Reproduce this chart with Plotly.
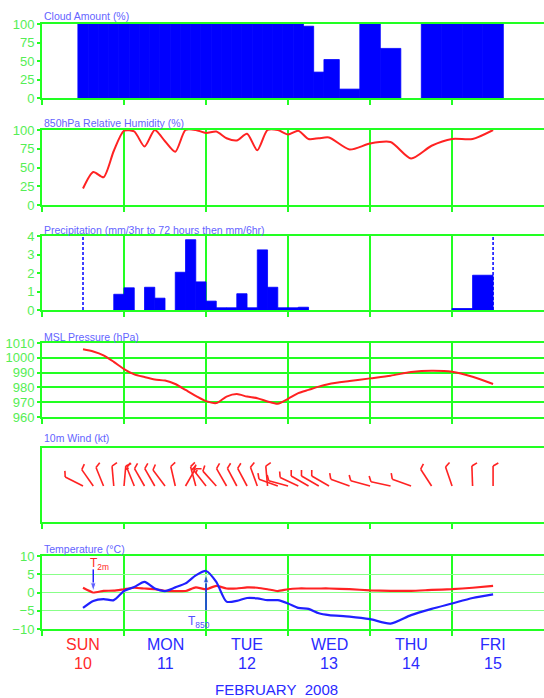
import math
import plotly.graph_objects as go

# ---------------- data ----------------
hours = [12, 15, 18, 21, 24, 27, 30, 33, 36, 39, 42, 45, 48, 51, 54, 57, 60, 63, 66, 69,
         72, 75, 78, 81, 84, 90, 96, 102, 108, 114, 120, 126, 132]

cloud = [100, 100, 100, 100, 100, 100, 100, 100, 100, 100, 100, 100, 100, 100, 100, 100,
         100, 100, 100, 100, 100, 100, 97, 35, 52, 12, 100, 67, 0, 100, 100, 100, 100]

humidity = [22, 44, 37, 72, 99, 98, 78, 100, 85, 71, 100, 100, 96, 98, 89, 86, 95, 73,
            100, 100, 94, 99, 88, 89, 90, 74, 82, 84, 62, 79, 88, 88, 100]

precip_hours = [15, 18, 21, 24, 27, 30, 33, 36, 39, 42, 45, 48, 51, 54, 57, 60, 63, 66, 69,
                72, 75, 78, 81, 84, 90, 96, 102, 108, 114, 120, 126, 132]
precip = [0, 0, 0, 0.85, 1.2, 0, 1.23, 0.64, 0, 2.04, 3.8, 1.52, 0.48, 0.12, 0.12, 0.88,
          0.12, 3.25, 1.23, 0.12, 0.12, 0.15, 0, 0, 0, 0, 0, 0, 0, 0, 0.08, 1.88]
forecast_bounds = [12, 132]

pressure = [1005.8, 1004.3, 1001.7, 997.3, 992.4, 988.8, 987.0, 985.4, 984.6, 982.3,
            978.3, 974.3, 970.7, 969.4, 973.8, 975.5, 973.8, 972.7, 970.5, 968.9,
            972.3, 976.1, 978.3, 980.5, 982.3, 984.3, 986.1, 987.9, 990.4, 991.3,
            990.6, 987.2, 982.3]

wind_dir = [297, 325, 338, 355, 5, 338, 330, 330, 323, 347, 30, 345, 322, 318, 330, 332,
            332, 340, 355, 290, 285, 295, 300, 300, 300, 290, 285, 282, 290, 327, 341,
            358, 0]
wind_speed = [10, 10, 10, 10, 15, 10, 10, 10, 10, 10, 10, 20, 15, 10, 10, 10, 10, 10, 10,
              10, 10, 10, 10, 10, 10, 10, 10, 10, 10, 10, 10, 10, 10]

t2m = [1.3, 0.0, 0.45, 0.5, 0.9, 1.3, 1.1, 0.9, 0.45, 0.4, 0.4, 1.4, 0.9, 1.8, 1.1, 1.1,
       1.4, 1.3, 0.9, 0.4, 0.9, 1.1, 1.1, 1.1, 1.1, 0.9, 0.6, 0.45, 0.45, 0.7, 0.9, 1.3,
       1.8]
t850 = [-4.2, -2.3, -1.8, -2.1, 0.4, 1.5, 2.9, 1.1, 0.4, 1.4, 2.5, 4.7, 5.9, 2.9, -2.5,
        -2.3, -1.5, -1.6, -2.1, -2.1, -3.0, -4.2, -4.5, -5.7, -6.2, -6.6, -7.3, -8.5,
        -6.2, -4.5, -3.0, -1.5, -0.5]

# labelled points on the temperature curves (time, value)
t2m_mark = (15, 0.3)
t850_mark = (48, 5.0)

day_names = ["SUN", "MON", "TUE", "WED", "THU", "FRI"]
day_nums = ["10", "11", "12", "13", "14", "15"]
day_centres = [12, 36, 60, 84, 108, 132]
day_ticks = [0, 24, 48, 72, 96, 120]
month_label = "FEBRUARY\u00a0\u00a02008"

panel_titles = ["Cloud Amount (%)", "850hPa Relative Humidity (%)",
                "Precipitation (mm/3hr to 72 hours then mm/6hr)", "MSL Pressure (hPa)",
                "10m Wind (kt)", "Temperature (\u00b0C)"]

# ---------------- style ----------------
W, H = 544, 698
LEFT = 42
XMAX = 146.9
PXH = (W - LEFT) / XMAX
GREEN = "#22ff22"
TICKGREEN = "#55ee55"
TITLEBLUE = "#6464ff"
BLUE = "#0000ff"
RED = "#ff2222"
ARROWBLUE = "#2020ff"
FONT = "Liberation Sans, Arial, sans-serif"
panels_px = [(24, 98), (130, 205), (236, 310), (343, 417), (448, 522), (556, 629)]
title_y = [16, 123, 230, 337, 438, 549]

fig = go.Figure()

# cloud bars (centred, width to midpoints)
c_off, c_wid = [], []
for i, t in enumerate(hours):
    left = t - (t - hours[i - 1]) / 2 if i > 0 else t - (hours[1] - hours[0]) / 2
    right = t + (hours[i + 1] - t) / 2 if i < len(hours) - 1 else t + (t - hours[i - 1]) / 2
    c_off.append(left - t)
    c_wid.append(right - left)
fig.add_trace(go.Bar(x=hours, y=cloud, offset=c_off, width=c_wid, marker_color=BLUE,
                     marker_line=dict(color=BLUE, width=[0.8 if v > 0 else 0 for v in cloud]),
                     xaxis="x", yaxis="y"))

# humidity
fig.add_trace(go.Scatter(x=hours, y=humidity, mode="lines",
                         line=dict(color=RED, width=2, shape="spline", smoothing=0.7),
                         xaxis="x2", yaxis="y2"))

# precipitation (accumulated over the preceding interval)
p_wid, p_off = [], []
prev = forecast_bounds[0]
for t in precip_hours:
    p_wid.append(t - prev)
    p_off.append(-(t - prev))
    prev = t
fig.add_trace(go.Bar(x=precip_hours, y=precip, offset=p_off, width=p_wid, marker_color=BLUE,
                     marker_line=dict(color=BLUE, width=[0.8 if v > 0 else 0 for v in precip]),
                     xaxis="x3", yaxis="y3"))
for b in forecast_bounds:
    fig.add_trace(go.Scatter(x=[b, b], y=[0, 4], mode="lines",
                             line=dict(color=BLUE, width=1.5, dash="3px,2px"),
                             xaxis="x3", yaxis="y3"))

# pressure
fig.add_trace(go.Scatter(x=hours, y=pressure, mode="lines",
                         line=dict(color=RED, width=2, shape="spline", smoothing=0.7),
                         xaxis="x4", yaxis="y4"))

# wind barbs
BASE_Y = 36
bx, by = [], []
for t, d, s in zip(hours, wind_dir, wind_speed):
    r = math.radians(d)
    ux, uy = math.sin(r), math.cos(r)
    L = 20
    px_, py_ = uy, -ux
    fx, fy = 0.87 * px_ + 0.5 * ux, 0.87 * py_ + 0.5 * uy
    segs = [((0, 0), (ux * L, uy * L))]
    pos = L
    n_full = int(s // 10)
    half = (s % 10) >= 5
    for k in range(n_full):
        sx, sy = ux * pos, uy * pos
        segs.append(((sx, sy), (sx + 6 * fx, sy + 6 * fy)))
        pos -= 3.5
    if half:
        sx, sy = ux * pos, uy * pos
        segs.append(((sx, sy), (sx + 3.5 * fx, sy + 3.5 * fy)))
    for (a, b) in segs:
        bx += [t + a[0] / PXH, t + b[0] / PXH, None]
        by += [BASE_Y + a[1], BASE_Y + b[1], None]
fig.add_trace(go.Scatter(x=bx, y=by, mode="lines", line=dict(color=RED, width=1.6),
                         xaxis="x5", yaxis="y5"))

# temperature
fig.add_trace(go.Scatter(x=hours, y=t2m, mode="lines",
                         line=dict(color=RED, width=2.2, shape="spline", smoothing=0.5),
                         xaxis="x6", yaxis="y6"))
fig.add_trace(go.Scatter(x=hours, y=t850, mode="lines",
                         line=dict(color="#2020ff", width=2.2, shape="spline", smoothing=0.7),
                         xaxis="x6", yaxis="y6"))

# label arrows (shaft + arrow head marker at the pointed value)
T_PER_PX = 20 / (panels_px[5][1] - panels_px[5][0])
for (mt, mv), shaft_px in ((t2m_mark, -22), (t850_mark, 36)):
    tail = mv - shaft_px * T_PER_PX
    fig.add_trace(go.Scatter(x=[mt, mt], y=[tail, mv], mode="lines+markers",
                             line=dict(color=ARROWBLUE, width=1.5),
                             marker=dict(symbol="arrow", angleref="previous", size=[0, 9],
                                         color=ARROWBLUE),
                             xaxis="x6", yaxis="y6"))

# ---------------- axes ----------------
yranges = [[0, 100], [0, 100], [0, 4], [960, 1010], [0, 74], [-10, 10]]
ytickvals = [[0, 25, 50, 75, 100], [0, 25, 50, 75, 100], [0, 1, 2, 3, 4],
             [960, 970, 980, 990, 1000, 1010], [], [-10, -5, 0, 5, 10]]
layout = dict(width=W, height=H, margin=dict(l=0, r=0, t=0, b=0), showlegend=False,
              plot_bgcolor="white", paper_bgcolor="white", barmode="overlay",
              font=dict(family=FONT))
for i in range(6):
    n = "" if i == 0 else str(i + 1)
    top, bot = panels_px[i]
    ydom = [1 - bot / H, 1 - top / H]
    show_vgrid = i != 4
    layout["xaxis" + n] = dict(domain=[LEFT / W, 1], range=[0, XMAX], anchor="y" + n,
                               tickvals=day_ticks, showticklabels=False, ticks="outside",
                               ticklen=5, tickwidth=2, tickcolor=GREEN, showline=True,
                               linecolor=GREEN, linewidth=2, mirror=True,
                               showgrid=show_vgrid, gridcolor=GREEN, gridwidth=1.5,
                               zeroline=False, fixedrange=True, automargin=False)
    ya = dict(domain=ydom, range=yranges[i], anchor="x" + n, showline=True,
              linecolor=GREEN, linewidth=2, zeroline=False, fixedrange=True,
              automargin=False, tickfont=dict(color=TICKGREEN, size=13, family=FONT))
    if i == 4:
        ya.update(showticklabels=False, ticks="", showgrid=False)
    else:
        ya.update(tickvals=ytickvals[i], ticks="outside", ticklen=3, tickwidth=1.5,
                  tickcolor=GREEN)
        if i == 3:
            ya.update(showgrid=True, gridcolor=GREEN, gridwidth=2)
        elif i == 5:
            ya.update(showgrid=True, gridcolor="#88ff88", gridwidth=1)
        else:
            ya.update(showgrid=False)
    layout["yaxis" + n] = ya
fig.update_layout(**layout)

# ---------------- annotations ----------------
ann = []
for i, txt in enumerate(panel_titles):
    ann.append(dict(text=txt, xref="paper", yref="paper", x=LEFT / W, y=1 - title_y[i] / H,
                    xanchor="left", yanchor="middle", showarrow=False,
                    font=dict(color=TITLEBLUE, size=10.5, family=FONT)))
for k in range(6):
    col = "#ff2a2a" if k == 0 else "#2a2aff"
    ann.append(dict(text=day_names[k], xref="x6", yref="paper", x=day_centres[k],
                    y=1 - 644 / H, showarrow=False, yanchor="middle",
                    font=dict(color=col, size=16, family=FONT)))
    ann.append(dict(text=day_nums[k], xref="x6", yref="paper", x=day_centres[k],
                    y=1 - 663 / H, showarrow=False, yanchor="middle",
                    font=dict(color=col, size=16, family=FONT)))
ann.append(dict(text=month_label, xref="paper", yref="paper", x=276 / W, y=1 - 689 / H,
                showarrow=False, yanchor="middle",
                font=dict(color="#2a2aff", size=15, family=FONT)))
ann.append(dict(text="T<sub>2m</sub>", xref="paper", yref="paper", x=88 / W, y=1 - 564 / H,
                showarrow=False, yanchor="middle",
                font=dict(color=RED, size=12, family=FONT)))
ann.append(dict(text="T<sub>850</sub>", xref="paper", yref="paper", x=199 / W, y=1 - 622 / H,
                showarrow=False, yanchor="middle",
                font=dict(color="#5050ff", size=12, family=FONT)))
fig.update_layout(annotations=ann)

fig.write_html("out.html", config={"displayModeBar": False},
               post_script="document.body.style.margin='0px';")
